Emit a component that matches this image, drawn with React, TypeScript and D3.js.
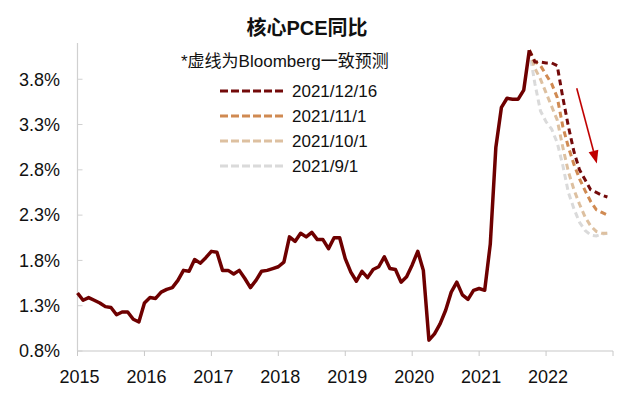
import React from "react";
import * as d3 from "d3";

const TITLE = "核心PCE同比";
const NOTE = "*虚线为Bloomberg一致预测";
const YEAR_LABELS = ["2015", "2016", "2017", "2018", "2019", "2020", "2021", "2022"];
const Y_TICKS = [0.8, 1.3, 1.8, 2.3, 2.8, 3.3, 3.8];

// Core PCE YoY (%), monthly from Jan 2015 to Oct 2021
const ACTUAL = [
  1.44, 1.36, 1.39, 1.36, 1.33, 1.29, 1.28, 1.2, 1.23, 1.23, 1.15, 1.12,
  1.33, 1.39, 1.38, 1.45, 1.48, 1.5, 1.58, 1.69, 1.68, 1.81, 1.77, 1.83,
  1.9, 1.89, 1.69, 1.69, 1.65, 1.69, 1.6, 1.5, 1.58, 1.68, 1.69, 1.71,
  1.73, 1.78, 2.06, 2.01, 2.1, 2.06, 2.11, 2.03, 2.03, 1.93, 2.05, 2.05,
  1.82, 1.67, 1.57, 1.68, 1.61, 1.7, 1.73, 1.84, 1.71, 1.7, 1.56, 1.62,
  1.75, 1.9, 1.69, 0.92, 0.99, 1.1, 1.25, 1.45, 1.56, 1.42, 1.37, 1.47,
  1.49, 1.47, 1.98, 3.05, 3.49, 3.59, 3.58, 3.58, 3.68, 4.12,
];

// Bloomberg consensus forecasts, monthly from Oct 2021 to Dec 2022
const FORECAST_START = 81;
const F_1216 = [4.12, 3.99, 3.99, 3.98, 3.98, 3.95, 3.6, 3.28, 3.0, 2.8, 2.69, 2.58, 2.55, 2.52, 2.5];
const F_1101 = [4.12, 4.0, 3.95, 3.85, 3.75, 3.6, 3.28, 3.05, 2.86, 2.7, 2.57, 2.45, 2.36, 2.33, 2.3];
const F_1001 = [4.12, 3.92, 3.8, 3.65, 3.5, 3.35, 3.05, 2.78, 2.58, 2.42, 2.28, 2.18, 2.12, 2.1, 2.1];
const F_0901 = [4.12, 3.75, 3.45, 3.33, 3.25, 3.1, 2.85, 2.55, 2.37, 2.22, 2.13, 2.08, 2.07, 2.09, 2.1];

const SERIES_NAMES = ["2021/12/16", "2021/11/1", "2021/10/1", "2021/9/1"];
const SERIES_COLORS = ["#730A0A", "#D08A52", "#DDC0A0", "#DADADA"];
const FORECASTS = [F_1216, F_1101, F_1001, F_0901];

// arrow annotation (month index, value)
const ARROW_FROM = [89.5, 3.7];
const ARROW_TO = [93.1, 2.87];

const FONT = "'Liberation Sans', Arial, 'Noto Sans CJK SC', sans-serif";

export default function App() {
  const W = 640;
  const H = 406;
  const x = d3.scaleLinear().domain([0, 96]).range([77.5, 613]);
  const y = d3.scaleLinear().domain([0.8, 4.2]).range([351, 43]);

  const line = d3
    .line<[number, number]>()
    .x((d) => x(d[0]))
    .y((d) => y(d[1]));

  const actualPts: [number, number][] = ACTUAL.map((v, i) => [i, v]);
  const fcPts = FORECASTS.map((arr) => arr.map((v, i) => [FORECAST_START + i, v] as [number, number]));

  const ax = x(ARROW_FROM[0]);
  const ay = y(ARROW_FROM[1]);
  const bx = x(ARROW_TO[0]);
  const by = y(ARROW_TO[1]);
  const ang = Math.atan2(by - ay, bx - ax);
  const hl = 13;
  const hw = 5;
  const baseX = bx - hl * Math.cos(ang);
  const baseY = by - hl * Math.sin(ang);
  const px = -Math.sin(ang);
  const py = Math.cos(ang);
  const head = `M${bx},${by}L${baseX + hw * px},${baseY + hw * py}L${baseX - hw * px},${baseY - hw * py}Z`;

  const yearTicks = d3.range(0, 97, 12);

  return (
    <svg
      width={W}
      height={H}
      style={{ position: "absolute", left: 0, top: 0, background: "#fff" }}
      fontFamily={FONT}
    >
      <rect width={W} height={H} fill="#fff" />
      <text x={307} y={35} textAnchor="middle" fontSize={20} fontWeight="bold" fill="#111">
        {TITLE}
      </text>

      {/* axes */}
      <line x1={x(0)} x2={x(0)} y1={y(4.2)} y2={y(0.8)} stroke="#D0D0D0" strokeWidth={1.2} />
      <line x1={x(0)} x2={x(96)} y1={y(0.8)} y2={y(0.8)} stroke="#C8C8C8" strokeWidth={1.2} />
      {Y_TICKS.map((t) => (
        <g key={t}>
          <line x1={x(0)} x2={x(0) + 5} y1={y(t)} y2={y(t)} stroke="#D0D0D0" strokeWidth={1} />
          <text x={60} y={y(t)} dy="0.35em" textAnchor="end" fontSize={18} fill="#111">
            {t.toFixed(1) + "%"}
          </text>
        </g>
      ))}
      {yearTicks.map((m) => (
        <line key={m} x1={x(m)} x2={x(m)} y1={y(0.8)} y2={y(0.8) + 5} stroke="#C8C8C8" strokeWidth={1} />
      ))}
      {YEAR_LABELS.map((lab, i) => (
        <text key={lab} x={x(i * 12) + 2} y={383} textAnchor="middle" fontSize={18} fill="#111">
          {lab}
        </text>
      ))}

      {/* forecasts, lightest first */}
      {fcPts
        .map((pts, i) => ({ pts, i }))
        .reverse()
        .map(({ pts, i }) => (
          <path
            key={i}
            d={line(pts) || ""}
            fill="none"
            stroke={SERIES_COLORS[i]}
            strokeWidth={3}
            strokeDasharray="6,4"
          />
        ))}

      <path d={line(actualPts) || ""} fill="none" stroke="#6E0000" strokeWidth={3.5} strokeLinejoin="round" />

      {/* arrow */}
      <line x1={ax} y1={ay} x2={baseX} y2={baseY} stroke="#C00000" strokeWidth={1.6} />
      <path d={head} fill="#C00000" />

      {/* legend */}
      <text x={181} y={67} fontSize={17} fill="#111">
        {NOTE}
      </text>
      {SERIES_NAMES.map((name, i) => (
        <g key={name} transform={`translate(0, ${91 + i * 25})`}>
          <line x1={220} x2={285} y1={0} y2={0} stroke={SERIES_COLORS[i]} strokeWidth={3} strokeDasharray="8,3" />
          <text x={292} y={0} dy="0.35em" fontSize={17} fill="#111">
            {name}
          </text>
        </g>
      ))}
    </svg>
  );
}
